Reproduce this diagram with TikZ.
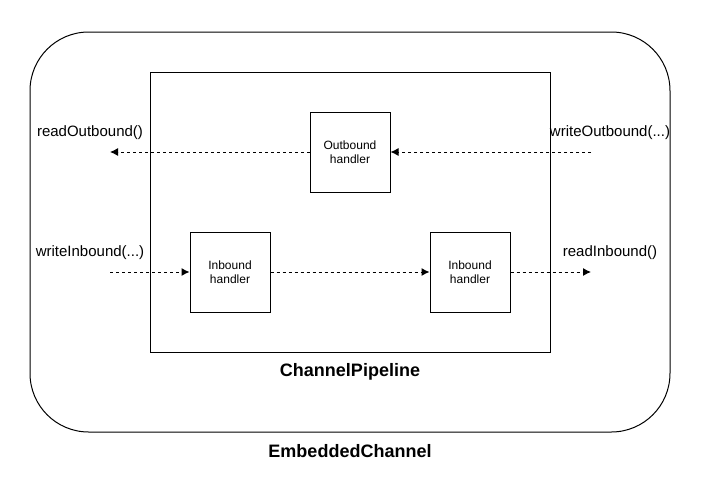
\documentclass[tikz,border=0pt]{standalone}
\usepackage{fontspec}
\setmainfont{Liberation Sans}
\usetikzlibrary{arrows.meta}
\tikzset{
  handler/.style={draw, minimum width=60pt, minimum height=60pt, align=center, font=\fontsize{9}{10.5}\selectfont},
  call/.style={font=\fontsize{11.25}{13}\selectfont},
  title/.style={font=\fontsize{13.5}{16}\selectfont\bfseries},
  flow/.style={dashed, dash pattern=on 2.25pt off 2.25pt, -{Latex[length=6pt,width=6pt]}}
}
\begin{document}
\begin{tikzpicture}[x=0.75pt, y=-0.75pt, line width=0.75pt]
\useasboundingbox (0,0) rectangle (701,479);
\draw[rounded corners=44pt] (30,32) rectangle (670,432);
\draw (150,72) rectangle (550,352);
\node[handler] (outh) at (350,152) {Outbound\\handler};
\node[handler] (inh1) at (230,272) {Inbound\\handler};
\node[handler] (inh2) at (470,272) {Inbound\\handler};
\coordinate (rdout) at (110,152);
\coordinate (wrout) at (591,152);
\coordinate (wrin) at (110,272);
\coordinate (rdin) at (591,272);
\node[call] (rdoutlbl) at (90,133) {readOutbound()};
\node[call] (wroutlbl) at (610,133) {writeOutbound(...)};
\node[call] (wrinlbl) at (90,253) {writeInbound(...)};
\node[call] (rdinlbl) at (610,253) {readInbound()};
\draw[flow] (wrout) -- (outh);
\draw[flow] (outh) -- (rdout);
\draw[flow] (wrin) -- (inh1);
\draw[flow] (inh1) -- (inh2);
\draw[flow] (inh2) -- (rdin);
\node[title] (pipe) at (350,372) {ChannelPipeline};
\node[title] (chan) at (350,451) {EmbeddedChannel};
\end{tikzpicture}
\end{document}
